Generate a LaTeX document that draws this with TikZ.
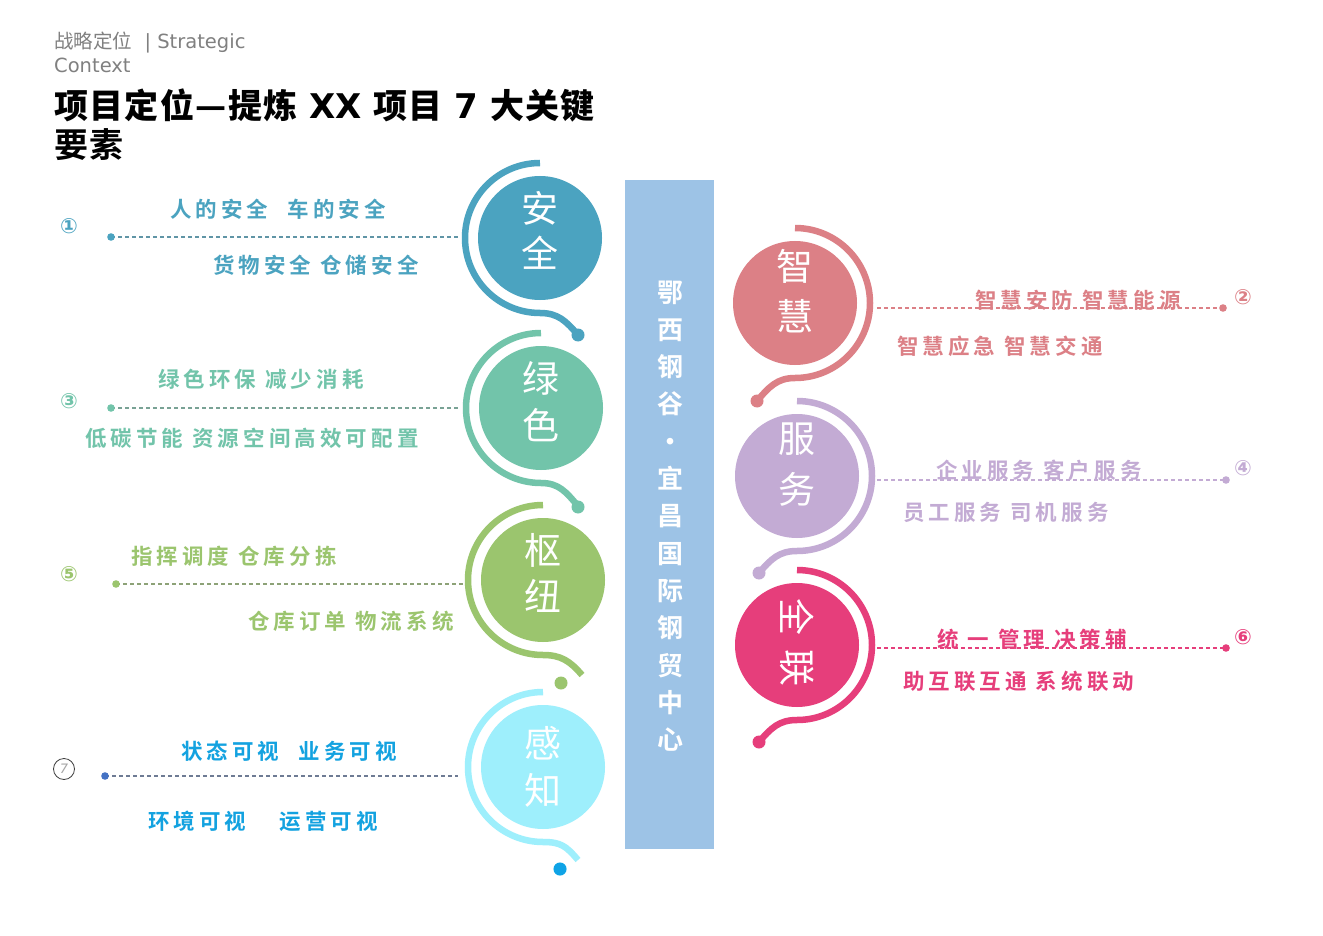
\documentclass[tikz,border=0pt]{standalone}
\usepackage{fontspec}
\setmainfont{DejaVu Sans}
\newfontfamily\cjk{Noto Sans CJK SC}
\newfontfamily\cjkb{Noto Sans CJK SC Bold}
\newfontfamily\cjkt[LetterSpace=4]{Noto Sans CJK SC Bold}
\newfontfamily\cjksp[LetterSpace=19]{Noto Sans CJK SC Bold}
\newfontfamily\numfont{DejaVu Sans Bold}
\definecolor{anq}{HTML}{4BA3C0}
\definecolor{lvs}{HTML}{72C4AA}
\definecolor{shn}{HTML}{9BC56E}
\definecolor{gzh}{HTML}{9EEFFC}
\definecolor{gzt}{HTML}{13A2E0}
\definecolor{gzd}{HTML}{0FA3E6}
\definecolor{gzl}{HTML}{4472C4}
\definecolor{zhh}{HTML}{DC8086}
\definecolor{fuw}{HTML}{C3ABD4}
\definecolor{qlc}{HTML}{E63E7B}
\definecolor{barc}{HTML}{9DC3E6}
\definecolor{hdr}{HTML}{808080}
\newcommand\ballfont{\cjk\fontsize{37}{46}\selectfont}
\newcommand\labfont{\cjksp\fontsize{21.5}{24}\selectfont}
% name, cx, cy, color, tail x, tail y, dot x, dot y
\newcommand\LBall[8]{%
  \node[ball, fill=#4] (#1) at (#2,#3) {};
  \draw[ring, draw=#4] (#2,#3-75) arc[start angle=-90, end angle=-270, radius=75]
    .. controls (#2+18,#3+75) and (#5-12,#6-14) .. (#5,#6);
  \fill[#4] (#7,#8) circle[radius=6.5];
}
\newcommand\RBall[8]{%
  \node[ball, fill=#4] (#1) at (#2,#3) {};
  \draw[ring, draw=#4] (#2,#3-75) arc[start angle=-90, end angle=90, radius=75]
    .. controls (#2-18,#3+75) and (#5+12,#6-14) .. (#5,#6);
  \fill[#4] (#7,#8) circle[radius=6.5];
}
\begin{document}
\begin{tikzpicture}[x=1pt,y=-1pt,
  ball/.style={circle, minimum size=124pt, inner sep=0pt},
  bt/.style={font=\ballfont, text=white, inner sep=0pt},
  ring/.style={line width=6.5pt, line cap=butt},
  lab/.style={font=\labfont, anchor=west, inner sep=0pt},
  num/.style={font=\numfont\fontsize{21}{22}\selectfont, inner sep=0pt},
  lead/.style={line width=1.1pt, dash pattern=on 4pt off 3pt}]
\useasboundingbox (0,0) rectangle (1323,936);
\fill[white] (0,0) rectangle (1323,936);

% header
\node[anchor=west, inner sep=0pt, text=hdr, font=\fontsize{19.5}{22}\selectfont] (hd1) at (54,43) {{\cjk 战略定位}\ \ | Strategic};
\node[anchor=west, inner sep=0pt, text=hdr, font=\fontsize{19.5}{22}\selectfont] (hd2) at (54,65) {Context};
\node[anchor=west, inner sep=0pt, font=\fontsize{34}{38}\selectfont\bfseries] (tt1) at (54,105) {{\cjkt 项目定位—提炼} XX {\cjkt 项目} 7 {\cjkt 大关键}};
\node[anchor=west, inner sep=0pt, font=\cjkt\fontsize{34}{38}\selectfont] (tt2) at (54,145) {要素};

% center bar
\node[fill=barc, minimum width=89pt, minimum height=669pt, anchor=north west, inner sep=0pt] (bar) at (625,180) {};
\node[text=white, font=\cjkb\fontsize{26}{37.3}\selectfont, align=center, inner sep=0pt] (bartxt) at (670,516)
  {鄂\\西\\钢\\谷\\·\\宜\\昌\\国\\际\\钢\\贸\\中\\心};

% balls
\LBall{anquan}{540}{238}{anq}{578}{335}{578}{335}
\LBall{lvse}{541}{408}{lvs}{578}{506}{578}{507}
\LBall{shuniu}{543}{580}{shn}{582}{675}{561}{683}
\LBall{ganzhi}{543}{767}{gzh}{578}{860}{560}{869}
\fill[gzd] (560,869) circle[radius=6.5];
\RBall{zhihui}{795}{303}{zhh}{757}{401}{757}{401}
\RBall{fuwu}{797}{476}{fuw}{759}{573}{759}{573}
\RBall{quanlian}{797}{645}{qlc}{759}{742}{759}{742}

\node[bt] (aq1) at (540,208) {安};
\node[bt] (aq2) at (540,253) {全};
\node[bt] (ls1) at (541,378) {绿};
\node[bt] (ls2) at (541,425) {色};
\node[bt] (sn1) at (543,550) {枢};
\node[bt] (sn2) at (543,596) {纽};
\node[bt] (gz1) at (543,743) {感};
\node[bt] (gz2) at (543,790) {知};
\node[bt] (zh1) at (795,266) {智};
\node[bt] (zh2) at (795,316) {慧};
\node[bt] (fw1) at (797,439) {服};
\node[bt] (fw2) at (797,489) {务};
\node[bt, rotate=-90] (ql1) at (797,617) {全};
\node[bt, rotate=-90] (ql2) at (797,668) {联};

% leaders left
\coordinate (d1) at (111,237); \coordinate (e1) at (460,237);
\coordinate (d3) at (111,408); \coordinate (e3) at (460,408);
\coordinate (d5) at (116,584); \coordinate (e5) at (463,584);
\coordinate (d7) at (105,776); \coordinate (e7) at (458,776);
\draw[lead, draw=anq!60!gray] (d1) -- (e1); \fill[anq] (d1) circle[radius=3.8];
\draw[lead, draw=lvs!50!gray] (d3) -- (e3); \fill[lvs] (d3) circle[radius=3.8];
\draw[lead, draw=shn!50!gray] (d5) -- (e5); \fill[shn] (d5) circle[radius=3.8];
\draw[lead, draw=gzl!30!gray] (d7) -- (e7); \fill[gzl] (d7) circle[radius=3.8];
% leaders right
\coordinate (d2) at (1223,308); \coordinate (e2) at (877,308);
\coordinate (d4) at (1226,480); \coordinate (e4) at (877,480);
\coordinate (d6) at (1226,648); \coordinate (e6) at (877,648);
\draw[lead, draw=zhh] (e2) -- (d2); \fill[zhh] (d2) circle[radius=3.8];
\draw[lead, draw=fuw] (e4) -- (d4); \fill[fuw] (d4) circle[radius=3.8];
\draw[lead, draw=qlc] (e6) -- (d6); \fill[qlc] (d6) circle[radius=3.8];

% numbers
\node[num, text=anq] (n1) at (69,226) {①};
\node[num, text=lvs] (n3) at (69,401) {③};
\node[num, text=shn] (n5) at (69,574) {⑤};
\node[circle, draw=black!75, line width=0.8pt, minimum size=21pt, inner sep=0pt, text=gray!70, font=\itshape\fontsize{13}{14}\selectfont] (n7) at (64,769) {7};
\node[num, text=zhh] (n2) at (1243,297) {②};
\node[num, text=fuw] (n4) at (1243,468) {④};
\node[num, text=qlc] (n6) at (1243,637) {⑥};

% labels left
\node[lab, text=anq] (l1a) at (170,209) {人的安全\hspace{19pt}车的安全};
\node[lab, text=anq] (l1b) at (213,265) {货物安全 仓储安全};
\node[lab, text=lvs] (l3a) at (158,379) {绿色环保 减少消耗};
\node[lab, text=lvs] (l3b) at (85,438) {低碳节能 资源空间高效可配置};
\node[lab, text=shn] (l5a) at (131,556) {指挥调度 仓库分拣};
\node[lab, text=shn] (l5b) at (248,621) {仓库订单 物流系统};
\node[lab, text=gzt] (l7a) at (181,751) {状态可视\hspace{19pt}业务可视};
\node[lab, text=gzt] (l7b) at (148,821) {环境可视\hspace{33pt}运营可视};
% labels right
\node[lab, text=zhh] (l2a) at (975,300) {智慧安防 智慧能源};
\node[lab, text=zhh] (l2b) at (897,346) {智慧应急 智慧交通};
\node[lab, text=fuw] (l4a) at (936,470) {企业服务 客户服务};
\node[lab, text=fuw] (l4b) at (903,512) {员工服务 司机服务};
\node[lab, text=qlc] (l6a) at (937,639) {统 一 管理 决策辅};
\node[lab, text=qlc] (l6b) at (903,681) {助互联互通 系统联动};
\end{tikzpicture}
\end{document}
